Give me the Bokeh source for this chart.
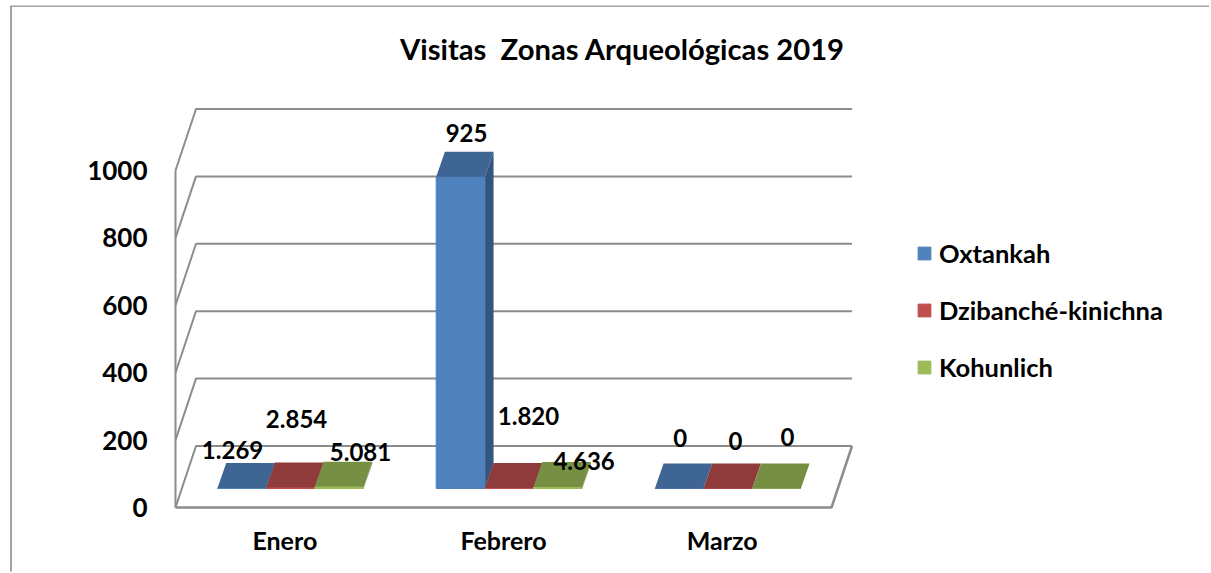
from bokeh.plotting import figure
from bokeh.models import (ColumnDataSource, Range1d, FixedTicker, Legend, LegendItem, Label)
from bokeh.core.properties import value
from bokeh.embed import file_html
from bokeh.resources import INLINE

# ---- data ----
title_text = "Visitas \u00a0Zonas Arqueológicas 2019"
categories = ["Enero", "Febrero", "Marzo"]
series_names = ["Oxtankah", "Dzibanché-kinichna", "Kohunlich"]
oxtankah = [1.269, 925, 0]
dzibanche = [2.854, 1.820, 0]
kohunlich = [5.081, 4.636, 0]
label_oxtankah = ["1.269", "925", "0"]
label_dzibanche = ["2.854", "1.820", "0"]
label_kohunlich = ["5.081", "4.636", "0"]
y_ticks = [0, 200, 400, 600, 800, 1000]

# ---- layout / style ----
PAGE_W, PAGE_H = 1211, 573
HOST_L, HOST_T = 12, 7   # the figure's corner, leaving room for the chart-area border
FRAME_L, FRAME_B = 165, 515
PX_X = 218.67      # px per category
PX_Y = 0.337       # px per value unit
X0, Y0 = 175, 507  # pixel of the floor's front-left corner
FONT = "Lato"
front_colors = ["#4F81BD", "#C0504D", "#9BBB59"]
top_colors = ["#3E6593", "#8F3B3B", "#778F43"]
side_colors = ["#34557D", "#7A3230", "#637839"]
GRID = "#8c8c8c"
BORDER = "#a3a3a3"
WALL_DX = 20.5 / PX_X
WALL_DV = 61.5 / PX_Y
BAR_W = 48.67 / PX_X
BAR_GAP = (1 - 3 * BAR_W) / 2
BAR_SHIFT_X = 5.7 / PX_X
BAR_SHIFT_V = 19 / PX_Y
BAR_DX = 8.7 / PX_X
BAR_DV = 25 / PX_Y
# manual data-label nudges (px) per series, per category
nudge_x = [[-9.3, 6, 1], [6, 19.3, 7.7], [21.3, 26.2, 11]]
nudge_y = [[-37.6, -43.3, -51], [-69, -71.4, -48], [-35, -26.4, -52]]


def xpx(px):
    return (px - X0) / PX_X


def ypx(px):
    return (Y0 - px) / PX_Y


p = figure(width=PAGE_W - HOST_L, height=PAGE_H - HOST_T,
           output_backend="svg", toolbar_location=None,
           x_range=Range1d(xpx(FRAME_L), xpx(PAGE_W)), y_range=Range1d(ypx(FRAME_B), ypx(HOST_T)),
           min_border_left=FRAME_L - HOST_L, min_border_right=0, min_border_top=0,
           min_border_bottom=PAGE_H - FRAME_B, background_fill_color="white",
           border_fill_color="white", outline_line_color=None)
p.margin = (HOST_T, 0, 0, HOST_L)
p.styles = {"box-shadow": f"-2px -1.5px 0 {BORDER}"}
p.grid.visible = False

# axes
p.yaxis.ticker = FixedTicker(ticks=y_ticks)
p.yaxis.major_label_text_font = FONT
p.yaxis.major_label_text_font_style = "bold"
p.yaxis.major_label_text_font_size = "26px"
p.yaxis.major_label_text_color = "black"
p.yaxis.major_label_standoff = 12
p.yaxis.axis_line_color = None
p.yaxis.major_tick_line_color = None
p.yaxis.minor_tick_line_color = None

cat_ticks = [i + 0.5 for i in range(len(categories))]
p.xaxis.ticker = FixedTicker(ticks=cat_ticks)
p.xaxis.major_label_overrides = {t: c for t, c in zip(cat_ticks, categories)}
p.xaxis.major_label_text_font = FONT
p.xaxis.major_label_text_font_style = "bold"
p.xaxis.major_label_text_font_size = "25px"
p.xaxis.major_label_text_color = "black"
p.xaxis.major_label_standoff = 3
p.xaxis.axis_line_color = None
p.xaxis.major_tick_line_color = None
p.xaxis.minor_tick_line_color = None

# walls and grid
n = len(categories)
for v in y_ticks:
    p.line([0, WALL_DX, n + WALL_DX], [v, v + WALL_DV, v + WALL_DV],
           line_color=GRID, line_width=2)
p.line([0, 0], [0, y_ticks[-1]], line_color=GRID, line_width=2)
p.line([0, n, n + WALL_DX], [0, 0, WALL_DV], line_color=GRID, line_width=2.5)

# bars
series = [oxtankah, dzibanche, kohunlich]
legend_items = []
for s, vals in enumerate(series):
    front, top, side = ([], []), ([], []), ([], [])
    for c, v in enumerate(vals):
        x0 = c + BAR_GAP + BAR_SHIFT_X + s * BAR_W
        x1 = x0 + BAR_W
        b = BAR_SHIFT_V
        t = b + v
        front[0].append([x0, x1, x1, x0])
        front[1].append([b, b, t, t])
        top[0].append([x0, x1, x1 + BAR_DX, x0 + BAR_DX])
        top[1].append([t, t, t + BAR_DV, t + BAR_DV])
        side[0].append([x1, x1 + BAR_DX, x1 + BAR_DX, x1])
        side[1].append([b, b + BAR_DV, t + BAR_DV, t])
    p.patches(side[0], side[1], fill_color=side_colors[s], line_color=None)
    r = p.patches(front[0], front[1], fill_color=front_colors[s],
                  line_color=front_colors[s], line_width=1)
    p.patches(top[0], top[1], fill_color=top_colors[s], line_color=None)
    legend_items.append(LegendItem(label=series_names[s], renderers=[r]))

# data labels
labels = [label_oxtankah, label_dzibanche, label_kohunlich]
for s, vals in enumerate(series):
    src = ColumnDataSource(dict(
        x=[c + BAR_GAP + BAR_SHIFT_X + (s + 0.5) * BAR_W for c in range(n)],
        y=[BAR_SHIFT_V + v for v in vals],
        t=labels[s], dx=nudge_x[s], dy=nudge_y[s]))
    p.text("x", "y", text="t", source=src, x_offset="dx", y_offset="dy",
           text_font=value(FONT), text_font_style="bold", text_font_size="24px",
           text_color="black", text_align="center", text_baseline="middle")

# title
p.add_layout(Label(x=xpx(622), y=ypx(47.5), text=title_text, text_font=FONT,
                   text_font_style="bold", text_font_size="29.2px", text_color="black",
                   text_align="center", text_baseline="middle"))

# legend
legend = Legend(items=legend_items, location=(916 - FRAME_L, FRAME_B - 382),
                orientation="vertical", glyph_width=16, glyph_height=16,
                label_standoff=7, spacing=27, padding=0, margin=0,
                border_line_color=None, background_fill_alpha=0,
                label_text_font=FONT, label_text_font_style="bold",
                label_text_font_size="25.5px", label_text_color="black")
p.add_layout(legend, "center")

open("out.html", "w").write(file_html(p, INLINE))
